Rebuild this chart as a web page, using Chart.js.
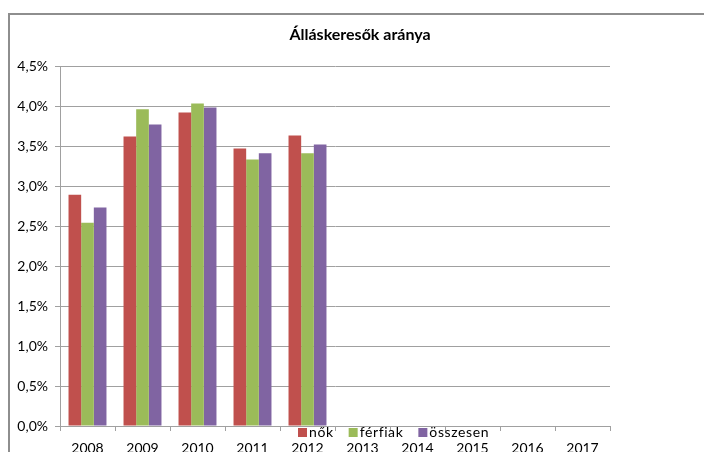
<!DOCTYPE html>
<html lang="hu">
<head>
  <meta charset="UTF-8">
  <title>Álláskeresők aránya</title>
  <script src="https://cdn.jsdelivr.net/npm/chart.js"></script>
  <style>
    html, body { margin: 0; padding: 0; background: #fff; overflow: hidden; }
  </style>
</head>
<body>

  <canvas id="rateChart" width="704" height="452"></canvas>

  <script>
    // adatok
    const chartTitle = 'Álláskeresők aránya';
    const years = ['2008', '2009', '2010', '2011', '2012', '2013', '2014', '2015', '2016', '2017'];
    const nok = [2.89, 3.62, 3.92, 3.47, 3.63, null, null, null, null, null];
    const ferfiak = [2.54, 3.96, 4.03, 3.33, 3.41, null, null, null, null, null];
    const osszesen = [2.73, 3.77, 3.98, 3.41, 3.52, null, null, null, null, null];

    const FONT = 'Lato, "Open Sans", sans-serif';

    // keret + cím + jelmagyarázat (a jelmagyarázat az x tengely feliratokra lóg)
    const decorPlugin = {
      id: 'decor',
      beforeDraw(chart) {
        const ctx = chart.ctx;
        ctx.save();
        ctx.strokeStyle = '#8e8e8e';
        ctx.lineWidth = 2;
        ctx.beginPath();
        ctx.moveTo(9, 452);
        ctx.lineTo(9, 14);
        ctx.lineTo(704, 14);
        ctx.stroke();
        ctx.restore();
      },
      afterDraw(chart) {
        const ctx = chart.ctx;
        const area = chart.chartArea;
        ctx.save();
        ctx.fillStyle = '#000';
        ctx.font = 'bold 16px ' + FONT;
        ctx.textAlign = 'center';
        ctx.textBaseline = 'middle';
        ctx.fillText(chartTitle, 360, 35);

        // jelmagyarázat
        ctx.font = '14px ' + FONT;
        ctx.letterSpacing = '0.6px';
        ctx.textAlign = 'left';
        let x = area.left + 238;
        const y = area.bottom + 6;
        chart.data.datasets.forEach(ds => {
          ctx.fillStyle = ds.backgroundColor;
          ctx.fillRect(x, y - 4, 9, 9);
          ctx.fillStyle = '#000';
          ctx.fillText(ds.label, x + 11, y);
          x += 11 + ctx.measureText(ds.label).width + 15;
        });
        ctx.restore();
      }
    };

    const gridColor = '#a0a0a0';

    new Chart(document.getElementById('rateChart').getContext('2d'), {
      type: 'bar',
      data: {
        labels: years,
        datasets: [
          { label: 'nők', data: nok, backgroundColor: '#C0504D' },
          { label: 'férfiak', data: ferfiak, backgroundColor: '#9BBB59' },
          { label: 'összesen', data: osszesen, backgroundColor: '#8064A2' }
        ]
      },
      options: {
        responsive: false,
        animation: false,
        layout: { padding: { left: 8, right: 94, top: 66, bottom: 0 } },
        datasets: {
          bar: { categoryPercentage: 0.69, barPercentage: 1.0 }
        },
        plugins: {
          legend: { display: false },
          title: { display: false },
          tooltip: { enabled: false }
        },
        scales: {
          x: {
            afterFit(scale) { scale.height = 26; },
            grid: {
              drawOnChartArea: false,
              drawTicks: true,
              tickLength: 5,
              color: gridColor,
              offset: true
            },
            border: { color: gridColor },
            ticks: {
              padding: 9,
              color: '#000',
              font: { family: FONT, size: 14 },
              maxRotation: 0
            }
          },
          y: {
            min: 0,
            max: 4.5,
            afterFit(scale) { scale.width = 52; },
            grid: { color: gridColor, tickLength: 5 },
            border: { color: gridColor },
            ticks: {
              stepSize: 0.5,
              padding: 7,
              color: '#000',
              font: { family: FONT, size: 14 },
              callback: v => v.toFixed(1).replace('.', ',') + '%'
            }
          }
        }
      },
      plugins: [decorPlugin]
    });
  </script>

</body>
</html>
